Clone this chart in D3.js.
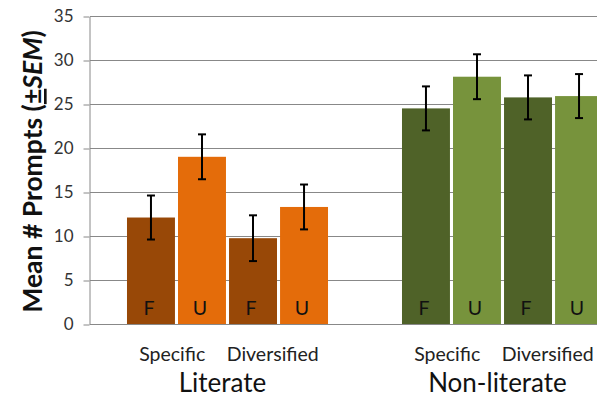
<!DOCTYPE html>
<html><head><meta charset="utf-8">
<script src="https://cdn.jsdelivr.net/npm/d3@7"></script>
<style>body{margin:0;background:#fff}svg{display:block}text{font-family:Lato,"Open Sans",sans-serif}</style>
</head><body><svg id="c" width="606" height="397"></svg>
<script>
// ---- data ----
const groups = ["Literate", "Non-literate"];
const conditions = ["Specific", "Diversified"];
const barKeys = ["Specific F", "Specific U", "Diversified F", "Diversified U"];
const barLabels = ["F", "U", "F", "U"];
const literateMeans = [12.1, 19.0, 9.75, 13.3];
const literateSEM = [2.5, 2.55, 2.6, 2.55];
const nonLiterateMeans = [24.5, 28.1, 25.75, 25.9];
const nonLiterateSEM = [2.5, 2.55, 2.5, 2.5];
const yTicks = [0, 5, 10, 15, 20, 25, 30, 35];
const colors = {
  "Literate": {F: "#984807", U: "#E46C0A"},
  "Non-literate": {F: "#4F6228", U: "#77933C"}
};

const rows = [];
groups.forEach((g, gi) => {
  const m = gi === 0 ? literateMeans : nonLiterateMeans;
  const s = gi === 0 ? literateSEM : nonLiterateSEM;
  barKeys.forEach((k, i) => rows.push({group: g, key: k, label: barLabels[i], mean: m[i], sem: s[i]}));
});

// ---- layout ----
const svg = d3.select("#c");
const mLeft = 90, mRight = 597, mTop = 16, mBottom = 324;
const y = d3.scaleLinear().domain([0, 35]).range([mBottom, mTop]);
const x0 = d3.scaleBand().domain(groups).range([mLeft, 640]).paddingInner(0.269).paddingOuter(0.1345);
const x1 = d3.scaleBand().domain(barKeys).range([0, x0.bandwidth()]).paddingInner(0.06).paddingOuter(0);
const xc = d3.scaleBand().domain(conditions).range([0, x0.bandwidth()]);

svg.append("defs").append("clipPath").attr("id", "plot")
  .append("rect").attr("x", mLeft).attr("y", 0).attr("width", mRight - mLeft).attr("height", mBottom + 2);

// gridlines
svg.append("g").selectAll("line").data(yTicks).join("line")
  .attr("x1", mLeft).attr("x2", mRight)
  .attr("y1", d => Math.round(y(d)) + 0.5).attr("y2", d => Math.round(y(d)) + 0.5)
  .attr("stroke", "#888").attr("stroke-width", 1);

// y axis
const ax = svg.append("g").attr("transform", `translate(${mLeft - 0.5},0.5)`)
  .call(d3.axisLeft(y).tickValues(yTicks).tickSize(6).tickPadding(10).tickSizeOuter(0));
ax.select(".domain").attr("stroke", "#888");
ax.selectAll(".tick line").attr("stroke", "#888");
ax.selectAll(".tick text").attr("font-size", 17).attr("fill", "#333").style("font-family", "Lato,'Open Sans',sans-serif");

// bars
const plot = svg.append("g").attr("clip-path", "url(#plot)");
plot.selectAll("rect.bar").data(rows).join("rect").attr("class", "bar")
  .attr("x", d => x0(d.group) + x1(d.key))
  .attr("width", x1.bandwidth())
  .attr("y", d => y(d.mean))
  .attr("height", d => y(0) - y(d.mean))
  .attr("fill", d => colors[d.group][d.label]);

// error bars
const eb = plot.selectAll("g.eb").data(rows).join("g").attr("class", "eb")
  .attr("stroke", "#000").attr("stroke-width", 2);
const cx = d => x0(d.group) + x1(d.key) + x1.bandwidth() / 2;
eb.append("line").attr("x1", cx).attr("x2", cx)
  .attr("y1", d => y(d.mean + d.sem)).attr("y2", d => y(d.mean - d.sem));
eb.append("line").attr("x1", d => cx(d) - 4).attr("x2", d => cx(d) + 4)
  .attr("y1", d => y(d.mean + d.sem)).attr("y2", d => y(d.mean + d.sem));
eb.append("line").attr("x1", d => cx(d) - 4).attr("x2", d => cx(d) + 4)
  .attr("y1", d => y(d.mean - d.sem)).attr("y2", d => y(d.mean - d.sem));

// F/U labels
plot.selectAll("text.fu").data(rows).join("text").attr("class", "fu")
  .attr("x", d => cx(d) - 2).attr("y", y(0) - 9)
  .attr("text-anchor", "middle").attr("font-size", 19.5).attr("fill", "#111")
  .text(d => d.label);

// category labels
groups.forEach(g => {
  svg.append("g").selectAll("text").data(conditions).join("text")
    .attr("x", c => x0(g) + xc(c) + xc.bandwidth() / 2 - 5)
    .attr("y", 361).attr("text-anchor", "middle").attr("font-size", 19.5).attr("fill", "#222")
    .text(c => c);
});
svg.selectAll("text.grp").data(groups).join("text").attr("class", "grp")
  .attr("x", g => x0(g) + x0.bandwidth() / 2 - 5)
  .attr("y", 392).attr("text-anchor", "middle").attr("font-size", 26).attr("fill", "#111")
  .text(g => g);

// y title
const yt = svg.append("text").attr("transform", "translate(42,171.5) rotate(-90)")
  .attr("text-anchor", "middle").attr("font-size", 26.5).attr("font-weight", "bold").attr("fill", "#111");
yt.append("tspan").text("Mean # Prompts (");
yt.append("tspan").attr("text-decoration", "underline").text("±");
yt.append("tspan").attr("font-style", "italic").text("SEM");
yt.append("tspan").text(")");
</script></body></html>
